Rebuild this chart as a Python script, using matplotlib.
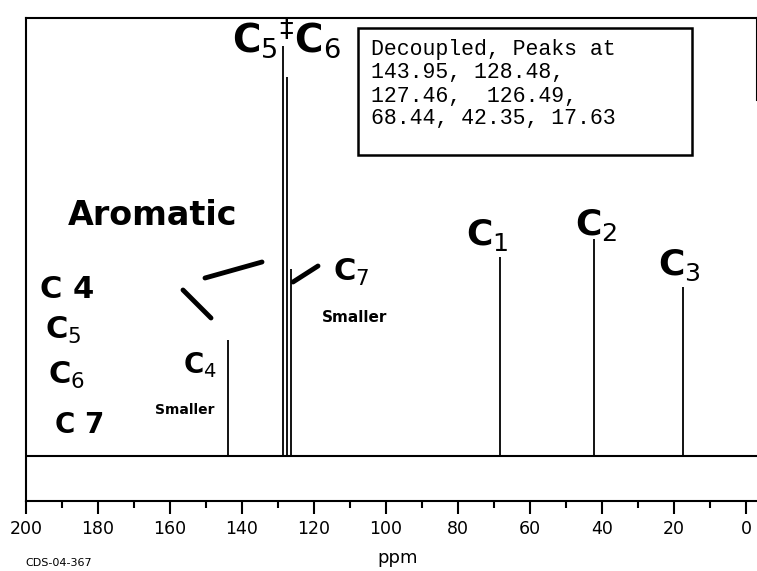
import matplotlib
matplotlib.use("Agg")
import matplotlib.pyplot as plt
from matplotlib.patches import Rectangle

# 13C spectrum, decoupled
shifts = [143.95, 128.48, 127.46, 126.49, 68.44, 42.35, 17.63]
heights = [116, 410, 379, 187, 199, 217, 169]
major_ticks = list(range(0, 201, 20))
minor_ticks = list(range(10, 200, 20))
box_lines = ["Decoupled, Peaks at",
             "143.95, 128.48,",
             "127.46,  126.49,",
             "68.44, 42.35, 17.63"]

W, H = 757, 571


def px(x, y):
    """pixel position -> figure fraction"""
    return x / W, 1 - y / H


fig = plt.figure(figsize=(W / 100, H / 100), dpi=100)
ax = fig.add_axes([26 / W, 1 - 501 / H, 731 / W, 483 / H])

ax.vlines(shifts, 0, heights, color="k", lw=1.3)
ax.axhline(0, color="k", lw=1.5)
ax.set_xlim(200, -3.06)
ax.set_ylim(-45, 438)

ax.spines["right"].set_visible(False)
for s in ["left", "top", "bottom"]:
    ax.spines[s].set_linewidth(1.5)
ax.plot([1, 1], [0.83, 1], transform=ax.transAxes, color="k", lw=1.5,
        clip_on=False)

ax.set_xticks(major_ticks)
ax.set_xticks(minor_ticks, minor=True)
ax.set_yticks([])
ax.tick_params(axis="x", which="major", direction="out", length=9.5,
               width=1.5, pad=4, labelsize=12.5)
ax.tick_params(axis="x", which="minor", direction="out", length=5,
               width=1.5)

fig.text(*px(398, 558), "ppm", ha="center", va="center", fontsize=13)
fig.text(*px(25, 563), "CDS-04-367", ha="left", va="center", fontsize=8)

# typed note box
fig.patches.append(Rectangle(px(358, 155), 334 / W, 127 / H,
                             transform=fig.transFigure, fill=False,
                             ec="k", lw=1.8))
for i, line in enumerate(box_lines):
    fig.text(*px(371, 50 + i * 23), line, ha="left", va="center",
             fontsize=15.5, family="Liberation Mono")

# handwritten notes
hand = dict(family="DejaVu Sans", weight="bold", color="k", va="center")
fig.text(*px(232, 38), r"C$_5$$^{\ddagger}$C$_6$", fontsize=28, **hand)
fig.text(*px(68, 215), "Aromatic", fontsize=24, **hand)
fig.text(*px(40, 290), "C 4", fontsize=22, **hand)
fig.text(*px(45, 330), r"C$_5$", fontsize=22, **hand)
fig.text(*px(48, 375), r"C$_6$", fontsize=22, **hand)
fig.text(*px(55, 425), "C 7", fontsize=20, **hand)
fig.text(*px(183, 365), r"C$_4$", fontsize=20, **hand)
fig.text(*px(155, 410), "Smaller", fontsize=10, **hand)
fig.text(*px(333, 272), r"C$_7$", fontsize=22, **hand)
fig.text(*px(322, 318), "Smaller", fontsize=11, **hand)
fig.text(*px(466, 235), r"C$_1$", fontsize=26, **hand)
fig.text(*px(575, 225), r"C$_2$", fontsize=26, **hand)
fig.text(*px(658, 265), r"C$_3$", fontsize=26, **hand)

# pen strokes
for (x0, y0), (x1, y1) in [((205, 278), (262, 262)),
                           ((183, 290), (211, 318)),
                           ((293, 282), (318, 266))]:
    fig.add_artist(plt.Line2D([x0 / W, x1 / W], [1 - y0 / H, 1 - y1 / H],
                              transform=fig.transFigure, color="k",
                              lw=3.5, solid_capstyle="round"))

fig.savefig("out.png", dpi=100)
